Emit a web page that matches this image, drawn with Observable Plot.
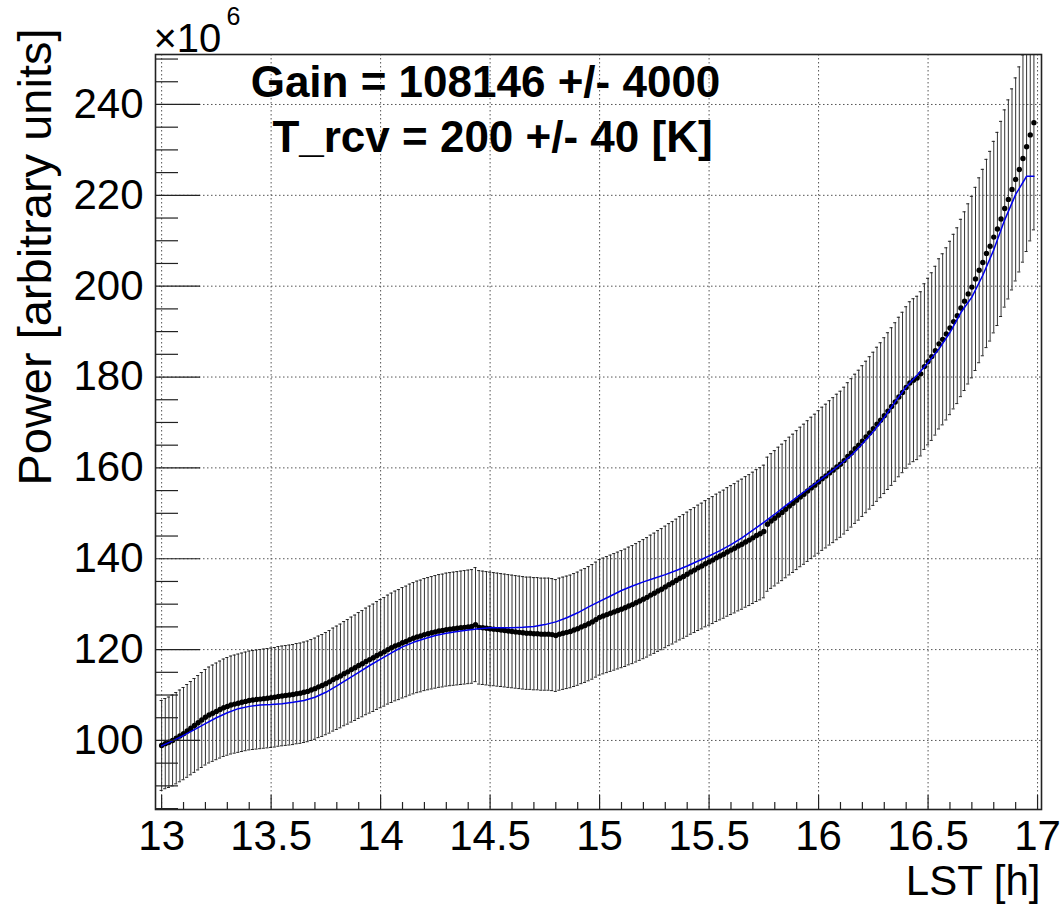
<!DOCTYPE html>
<html>
<head>
<meta charset="utf-8">
<script src="https://cdn.jsdelivr.net/npm/d3@7"></script>
<script src="https://cdn.jsdelivr.net/npm/@observablehq/plot@0.6"></script>
<style>
  body { margin: 0; background: #fff; }
</style>
</head>
<body>
<div id="chart"></div>
<script>
// Measured total power, one sample per minute starting at LST 13:00 (units of 1e6)
const startLST = 13;
const sampleMinutes = 1;
const power = [
  98.9, 99.3, 99.6, 100.0, 100.5, 101.0, 101.5, 102.1, 102.7, 103.3,
  103.9, 104.5, 105.1, 105.6, 106.0, 106.4, 106.8, 107.2, 107.5, 107.8,
  108.0, 108.2, 108.4, 108.6, 108.8, 108.9, 109.0, 109.1, 109.2, 109.3,
  109.4, 109.5, 109.7, 109.8, 109.9, 110.0, 110.1, 110.3, 110.4, 110.6,
  110.8, 111.1, 111.4, 111.8, 112.1, 112.5, 112.9, 113.4, 113.8, 114.2,
  114.7, 115.1, 115.6, 116.0, 116.5, 116.9, 117.4, 117.8, 118.2, 118.7,
  119.1, 119.5, 120.0, 120.4, 120.8, 121.1, 121.5, 121.8, 122.2, 122.5,
  122.8, 123.0, 123.3, 123.5, 123.7, 123.9, 124.1, 124.2, 124.4, 124.5,
  124.6, 124.7, 124.8, 124.9, 125.0, 125.1, 125.5, 124.9, 124.8, 124.7,
  124.6, 124.5, 124.4, 124.3, 124.2, 124.1, 124.0, 123.9, 123.8, 123.7,
  123.6, 123.6, 123.5, 123.5, 123.4, 123.4, 123.4, 123.3, 123.1, 123.4,
  123.6, 123.8, 124.0, 124.3, 124.6, 125.0, 125.3, 125.7, 126.1, 126.6,
  127.1, 127.4, 127.7, 128.0, 128.3, 128.6, 128.9, 129.2, 129.6, 129.9,
  130.3, 130.7, 131.1, 131.5, 132.0, 132.4, 132.9, 133.3, 133.8, 134.3,
  134.7, 135.2, 135.7, 136.1, 136.6, 137.1, 137.5, 138.0, 138.4, 138.9,
  139.3, 139.7, 140.2, 140.6, 141.0, 141.5, 141.9, 142.3, 142.8, 143.2,
  143.7, 144.1, 144.6, 145.1, 145.5, 146.0, 147.6, 148.3, 148.9, 149.6,
  150.2, 150.9, 151.6, 152.2, 152.9, 153.6, 154.2, 154.9, 155.6, 156.2,
  156.9, 157.6, 158.2, 158.9, 159.5, 160.2, 160.8, 161.6, 162.5, 163.3,
  164.2, 165.0, 165.9, 166.8, 167.7, 168.6, 169.6, 170.5, 171.5, 172.5,
  173.5, 174.5, 175.6, 176.6, 177.7, 178.7, 179.3, 179.8, 180.7, 182.3,
  183.4, 184.5, 185.8, 187.3, 188.3, 189.5, 190.8, 192.2, 193.5, 195.2,
  196.7, 198.3, 199.8, 201.6, 203.5, 205.2, 207.2, 208.8, 210.8, 212.6,
  214.8, 217.1, 219.1, 221.3, 223.5, 225.7, 228.1, 230.7, 233.3, 236.0
];
// Relative uncertainty on each power sample
const relErr = 0.10;

// Fitted sky model (gain * T_sky + T_rcv), every 3 minutes, plus the final sample time
const modelStepMinutes = 3;
const modelPower = [
  98.8, 99.9, 101.1, 102.4, 103.7, 105.0, 106.1, 107.0, 107.5, 107.8,
  107.9, 108.1, 108.4, 108.8, 109.5, 110.6, 112.0, 113.5, 115.0, 116.5,
  117.9, 119.3, 120.6, 121.6, 122.4, 123.1, 123.6, 124.0, 124.3, 124.6,
  124.8, 124.8, 124.8, 124.9, 125.1, 125.5, 126.1, 127.0, 128.1, 129.4,
  130.6, 131.8, 133.0, 134.0, 134.9, 135.7, 136.5, 137.4, 138.4, 139.5,
  140.6, 141.8, 143.1, 144.6, 146.3, 148.0, 149.8, 151.7, 153.5, 155.3,
  157.1, 158.9, 160.8, 162.8, 165.3, 168.0, 171.1, 174.6, 177.8, 180.4,
  183.2, 186.2, 189.8, 194.2, 197.6, 202.4, 208.0, 214.6, 220.2, 224.2
];
const modelLastLST = 16.9833;
const modelLastPower = 224.2;

// Axis ticks
const xMajor = [13, 13.5, 14, 14.5, 15, 15.5, 16, 16.5, 17];
const xMinor = [13.1, 13.2, 13.3, 13.4, 13.6, 13.7, 13.8, 13.9, 14.1, 14.2, 14.3, 14.4,
  14.6, 14.7, 14.8, 14.9, 15.1, 15.2, 15.3, 15.4, 15.6, 15.7, 15.8, 15.9,
  16.1, 16.2, 16.3, 16.4, 16.6, 16.7, 16.8, 16.9];
const yMajor = [100, 120, 140, 160, 180, 200, 220, 240];
const yMinor = [85, 90, 95, 105, 110, 115, 125, 130, 135, 145, 150, 155, 165, 170, 175,
  185, 190, 195, 205, 210, 215, 225, 230, 235, 245, 250];

// Text
const xTitle = "LST [h]";
const yTitle = "Power [arbitrary units]";
const gainLabel = "Gain = 108146 +/- 4000";
const trcvLabel = "T_rcv = 200 +/- 40 [K]";
const exponentBase = "×10";
const exponentPower = "6";

// ---- build ----
const W = 1060, H = 907;
const mLeft = 155, mRight = 19, mTop = 54, mBottom = 98;
const frameW = W - mLeft - mRight;
const frameH = H - mTop - mBottom;

const samples = power.map((p, i) => ({
  lst: startLST + (i * sampleMinutes) / 60,
  p,
  lo: p * (1 - relErr),
  hi: p * (1 + relErr)
}));
const model = modelPower.map((p, k) => ({lst: startLST + (k * modelStepMinutes) / 60, p}));
model.push({lst: modelLastLST, p: modelLastPower});

const capHalf = 0.007;
const font = "'Liberation Sans', Arial, Helvetica, sans-serif";

const chart = Plot.plot({
  width: W,
  height: H,
  marginLeft: mLeft,
  marginRight: mRight,
  marginTop: mTop,
  marginBottom: mBottom,
  style: {fontFamily: font, fontSize: "42px", color: "#000", background: "#fff", overflow: "visible"},
  x: {domain: [12.972, 17.018]},
  y: {domain: [84.8, 251]},
  marks: [
    // dotted grid at major ticks
    Plot.gridX(xMajor, {stroke: "#555", strokeOpacity: 1, strokeWidth: 1, strokeDasharray: "1.5,2.5"}),
    Plot.gridY(yMajor, {stroke: "#555", strokeOpacity: 1, strokeWidth: 1, strokeDasharray: "1.5,2.5"}),
    // error bars with small caps
    Plot.ruleX(samples, {x: "lst", y1: "lo", y2: "hi", stroke: "#333", strokeWidth: 1, clip: true}),
    Plot.ruleY(samples, {y: "hi", x1: d => d.lst - capHalf, x2: d => d.lst + capHalf, stroke: "#222", strokeWidth: 1, clip: true}),
    Plot.ruleY(samples, {y: "lo", x1: d => d.lst - capHalf, x2: d => d.lst + capHalf, stroke: "#222", strokeWidth: 1, clip: true}),
    // measured points
    Plot.dot(samples, {x: "lst", y: "p", r: 2.7, fill: "#000", stroke: "none", clip: true}),
    // model curve
    Plot.line(model, {x: "lst", y: "p", stroke: "#0000ee", strokeWidth: 1.5, clip: true}),
    // inward ticks
    Plot.tickY(yMinor, {y: d => d, insetRight: frameW - 23, stroke: "#222", strokeWidth: 1.2}),
    Plot.tickY(yMajor, {y: d => d, insetRight: frameW - 45, stroke: "#222", strokeWidth: 1.2}),
    Plot.tickX(xMinor, {x: d => d, insetTop: frameH - 7, stroke: "#222", strokeWidth: 1.2}),
    Plot.tickX(xMajor, {x: d => d, insetTop: frameH - 14, stroke: "#222", strokeWidth: 1.2}),
    Plot.frame({stroke: "#222", strokeWidth: 1.6}),
    // tick labels
    Plot.axisX(xMajor, {tickSize: 0, tickPadding: 11, fontSize: 42, tickFormat: d => String(d), label: null}),
    Plot.axisY(yMajor, {tickSize: 0, tickPadding: 12, fontSize: 42, tickFormat: d => String(d), label: null}),
    // axis titles
    Plot.text([xTitle], {frameAnchor: "bottom-right", textAnchor: "end", lineAnchor: "top", dx: -1, dy: 56, fontSize: 42}),
    Plot.text([yTitle], {frameAnchor: "top-left", textAnchor: "end", lineAnchor: "middle", rotate: -90, dx: -120, dy: -26, fontSize: 47}),
    Plot.text([exponentBase], {frameAnchor: "top-left", textAnchor: "start", lineAnchor: "top", dx: -2, dy: -31, fontSize: 40}),
    Plot.text([exponentPower], {frameAnchor: "top-left", textAnchor: "start", lineAnchor: "top", dx: 71, dy: -47, fontSize: 25}),
    // fit results
    Plot.text([gainLabel], {frameAnchor: "top-left", textAnchor: "middle", lineAnchor: "top", dx: 330, dy: 11, fontSize: 44, fontWeight: "bold"}),
    Plot.text([trcvLabel], {frameAnchor: "top-left", textAnchor: "middle", lineAnchor: "top", dx: 337, dy: 66, fontSize: 44, fontWeight: "bold"})
  ]
});

document.getElementById("chart").append(chart);
</script>
</body>
</html>
